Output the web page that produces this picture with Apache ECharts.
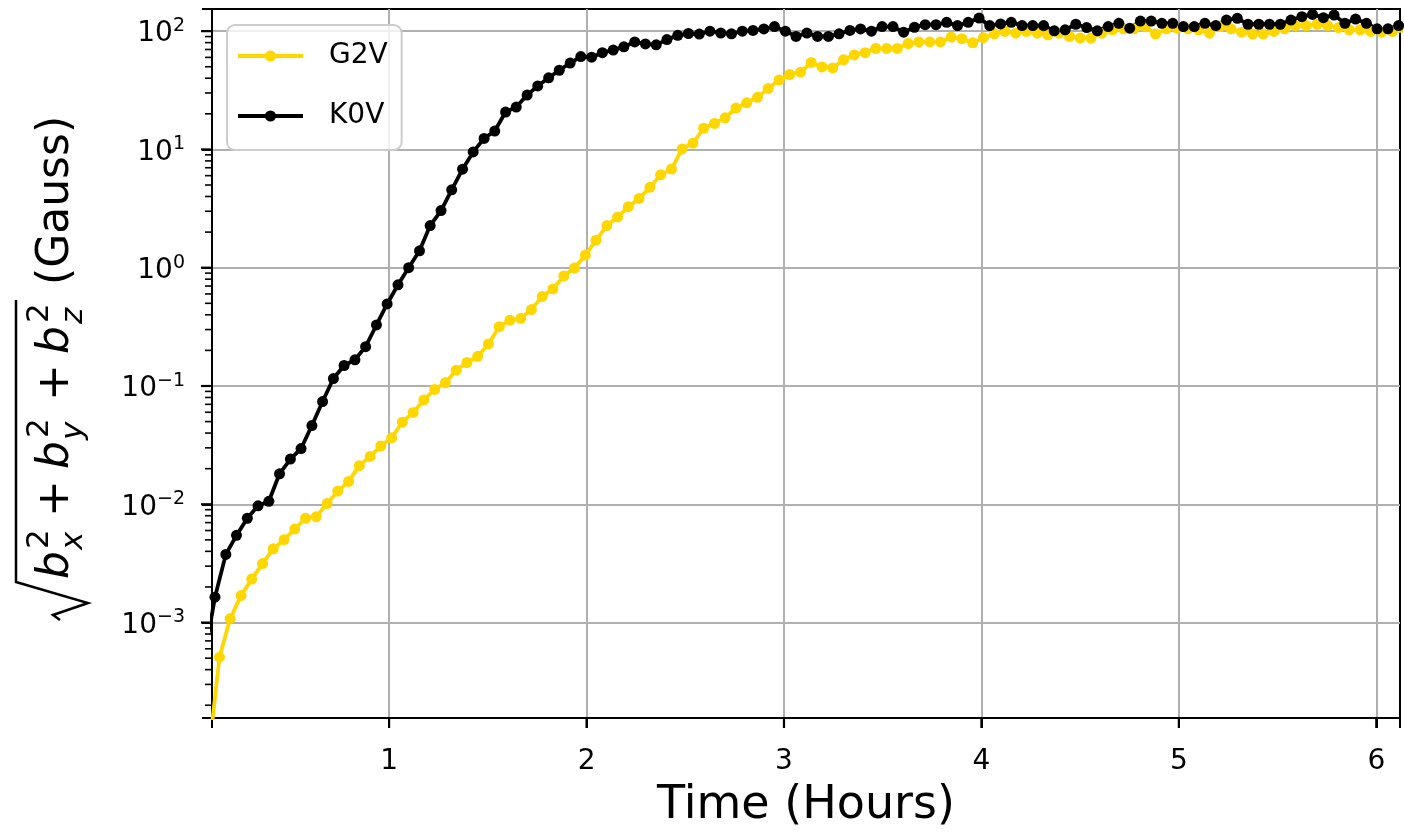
<!DOCTYPE html>
<html>
<head>
<meta charset="utf-8">
<title>b field growth</title>
<script src="https://cdn.jsdelivr.net/npm/echarts@6/dist/echarts.min.js"></script>
<style>
  html, body { margin: 0; padding: 0; background: #fff; }
  #chart { width: 1404px; height: 834px; }
</style>
</head>
<body>
<div id="chart"></div>
<script>
// [time (hours), |b| (Gauss)]
const g2v = [
  [0.086, 7.7e-5], [0.141, 5.1e-4], [0.195, 1.08e-3], [0.250, 1.69e-3], [0.304, 2.33e-3],
  [0.359, 3.15e-3], [0.413, 4.2e-3], [0.468, 5.02e-3], [0.522, 6.17e-3], [0.577, 7.62e-3],
  [0.631, 7.86e-3], [0.686, 1.016e-2], [0.740, 1.29e-2], [0.795, 1.56e-2], [0.849, 2.12e-2],
  [0.904, 2.54e-2], [0.958, 3.11e-2], [1.013, 3.65e-2], [1.067, 4.94e-2], [1.122, 5.98e-2],
  [1.176, 7.62e-2], [1.231, 9.35e-2], [1.285, 0.1064], [1.340, 0.136], [1.394, 0.158],
  [1.449, 0.178], [1.503, 0.227], [1.558, 0.317], [1.612, 0.36], [1.667, 0.373],
  [1.721, 0.443], [1.776, 0.572], [1.830, 0.662], [1.885, 0.853], [1.939, 0.993],
  [1.994, 1.28], [2.048, 1.71], [2.103, 2.27], [2.157, 2.68], [2.212, 3.28],
  [2.266, 3.85], [2.321, 4.78], [2.375, 6.1], [2.430, 6.82], [2.484, 10.1],
  [2.539, 11.3], [2.593, 15.1], [2.648, 16.6], [2.702, 18.5], [2.757, 22.4],
  [2.811, 24.8], [2.866, 27.6], [2.920, 32.8], [2.975, 38.6], [3.029, 43.0],
  [3.084, 45.0], [3.138, 54.4], [3.193, 49.8], [3.247, 48.9], [3.302, 57.3],
  [3.356, 63.0], [3.411, 65.8], [3.465, 71.5], [3.520, 71.5], [3.574, 71.5],
  [3.629, 78.6], [3.683, 81.1], [3.738, 81.1], [3.792, 81.1], [3.847, 89.2],
  [3.901, 86.4], [3.956, 79.6], [4.010, 88.1], [4.065, 95.0], [4.119, 99.4],
  [4.174, 96.2], [4.228, 99.4], [4.283, 96.2], [4.337, 93.2], [4.392, 96.2],
  [4.446, 90.3], [4.501, 87.5], [4.555, 87.5], [4.610, 96.2], [4.664, 102.6],
  [4.719, 104.6], [4.773, 104.6], [4.828, 109.3], [4.882, 94.4], [4.937, 104.6],
  [4.991, 106.0], [5.046, 104.6], [5.100, 102.6], [5.155, 96.2], [5.209, 109.3],
  [5.264, 104.6], [5.318, 98.1], [5.373, 94.4], [5.427, 94.4], [5.482, 99.4],
  [5.536, 104.6], [5.591, 111.5], [5.645, 111.5], [5.700, 114.4], [5.754, 111.5],
  [5.809, 107.3], [5.863, 102.6], [5.918, 102.6], [5.972, 99.4], [6.027, 98.1],
  [6.081, 99.4], [6.136, 101]
];

const k0v = [
  [0.064, 5.0e-4], [0.118, 1.64e-3], [0.173, 3.77e-3], [0.227, 5.46e-3], [0.282, 7.62e-3],
  [0.336, 9.71e-3], [0.391, 1.06e-2], [0.445, 1.81e-2], [0.500, 2.41e-2], [0.554, 2.96e-2],
  [0.609, 4.63e-2], [0.663, 7.39e-2], [0.718, 0.1156], [0.772, 0.149], [0.827, 0.1666],
  [0.881, 0.215], [0.936, 0.328], [0.990, 0.494], [1.045, 0.717], [1.099, 1.0],
  [1.154, 1.39], [1.208, 2.27], [1.263, 3.04], [1.317, 4.56], [1.372, 6.81],
  [1.426, 9.53], [1.481, 12.4], [1.535, 14.3], [1.590, 20.7], [1.644, 22.8],
  [1.699, 28.8], [1.753, 34.4], [1.808, 40.3], [1.862, 46.7], [1.917, 53.7],
  [1.971, 61.0], [2.026, 60.2], [2.080, 65.8], [2.135, 69.2], [2.189, 73.7],
  [2.244, 81.1], [2.298, 78.0], [2.353, 76.6], [2.407, 84.8], [2.462, 92.1],
  [2.516, 95.5], [2.571, 94.5], [2.625, 100], [2.680, 96.3], [2.734, 95.0],
  [2.789, 100], [2.843, 101.3], [2.898, 104.5], [2.952, 109.3], [3.007, 100],
  [3.061, 90.3], [3.116, 96.3], [3.170, 90.3], [3.225, 90.3], [3.279, 95.0],
  [3.334, 101.3], [3.388, 104.5], [3.443, 100], [3.497, 109.3], [3.552, 109.3],
  [3.606, 98.1], [3.661, 107.9], [3.715, 113.5], [3.770, 113.5], [3.824, 118.7],
  [3.879, 111.4], [3.933, 118.7], [3.988, 128.9], [4.042, 111.4], [4.097, 115],
  [4.151, 118.8], [4.206, 111.5], [4.260, 111.5], [4.315, 111.5], [4.369, 100.6],
  [4.424, 102.6], [4.478, 114.4], [4.533, 107.3], [4.587, 100.6], [4.642, 109.3],
  [4.696, 116.5], [4.751, 105.9], [4.805, 121.8], [4.860, 121.8], [4.914, 116.5],
  [4.969, 116.5], [5.023, 109.3], [5.078, 109.3], [5.132, 116.5], [5.187, 111.5],
  [5.241, 124.2], [5.296, 128.3], [5.350, 114.4], [5.405, 114.4], [5.459, 114.4],
  [5.514, 114.4], [5.568, 124.2], [5.623, 132.4], [5.677, 138.4], [5.732, 130.0],
  [5.786, 136.8], [5.841, 116.5], [5.895, 126.6], [5.950, 116.5], [6.004, 104.6],
  [6.059, 104.6], [6.113, 111.5], [6.168, 112]
];

const xTicks = [1, 2, 3, 4, 5, 6];
const yTicks = [1e-3, 1e-2, 1e-1, 1, 10, 100];

const xMin = 0.103, xMax = 6.12;
const yMin = 1.56e-4, yMax = 153.9;

// log minor ticks at 2..9 x 10^n
const yMinor = [];
for (let e = -4; e <= 2; e++) {
  for (let k = 2; k <= 9; k++) {
    const v = k * Math.pow(10, e);
    if (v > yMin && v < yMax) yMinor.push(v);
  }
}

// tick marks as [x, y, kind]: 0 = x major, 1 = y major, 2 = y minor
const tickData = []
  .concat(xTicks.map(v => [v, yMin, 0]))
  .concat(yTicks.map(v => [xMin, v, 1]))
  .concat(yMinor.map(v => [xMin, v, 2]));

const FONT = '"DejaVu Sans", sans-serif';
const supDigits = { '-': '−' };

function expLabel(v) {
  const e = Math.round(Math.log10(v));
  const s = String(e).split('').map(c => supDigits[c] || c).join('');
  return '{b|10}{s|' + s + '}';
}

// rotated y axis title: sqrt(b_x^2 + b_y^2 + b_z^2) (Gauss)
const big = 44, small = 31;
const it = (px) => 'italic ' + px + 'px ' + FONT;
const rm = (px) => px + 'px ' + FONT;
function t(text, x, y, font) {
  return {
    type: 'text',
    style: { text: text, x: x, y: y, font: font, fill: '#000', align: 'left', verticalAlign: 'middle',
      textAlign: 'left', textVerticalAlign: 'middle' }
  };
}
const yTitle = {
  type: 'group',
  x: 57,
  y: 369,
  rotation: Math.PI / 2,
  children: [
    {
      type: 'polyline',
      shape: { points: [[-251, 3], [-246, -4], [-234, 31], [-213, -41], [69, -41]] },
      style: { stroke: '#000', lineWidth: 2.5, fill: null, lineJoin: 'miter' }
    },
    t('b', -210, 0, it(big)),
    t('2', -180, -17, rm(small)),
    t('x', -181, 17, it(small)),
    t('+', -148, 0, rm(big)),
    t('b', -100, 0, it(big)),
    t('2', -69, -17, rm(small)),
    t('y', -71, 17, it(small)),
    t('+', -32, 0, rm(big)),
    t('b', 15, 0, it(big)),
    t('2', 46, -17, rm(small)),
    t('z', 45, 17, it(small)),
    t('(Gauss)', 84, 0, rm(big))
  ]
};

function renderTick(params, api) {
  const p = api.coord([api.value(0), api.value(1)]);
  const kind = api.value(2);
  let shape;
  if (kind === 0) {
    shape = { x1: p[0], y1: p[1], x2: p[0], y2: p[1] + 10 };
  } else {
    const len = kind === 1 ? 11 : 7;
    shape = { x1: p[0] - len, y1: p[1], x2: p[0], y2: p[1] };
  }
  return {
    type: 'line',
    shape: shape,
    style: { stroke: '#000', lineWidth: kind === 2 ? 1.6 : 2.2 }
  };
}

const spine = { show: true, onZero: false, lineStyle: { color: '#000', width: 2 } };
const majorTick = { show: true, inside: false, length: 10, lineStyle: { color: '#000', width: 2 } };

const chart = echarts.init(document.getElementById('chart'));
chart.setOption({
  animation: false,
  backgroundColor: '#fff',
  grid: {
    left: 212, right: 4, top: 9, bottom: 104.5,
    show: true, borderColor: '#000', borderWidth: 2, backgroundColor: 'transparent'
  },
  legend: {
    left: 227, top: 25, orient: 'vertical',
    itemWidth: 65, itemHeight: 14, itemGap: 32,
    padding: [17, 14, 20, 9],
    backgroundColor: 'rgba(255,255,255,0.8)',
    borderColor: '#cccccc', borderWidth: 2, borderRadius: 8,
    lineStyle: { width: 4 },
    textStyle: { fontSize: 28, color: '#000', fontFamily: FONT, padding: [0, 0, 0, 21] },
    data: ['G2V', 'K0V']
  },
  xAxis: {
    type: 'value',
    min: xMin, max: xMax,
    splitNumber: 6,
    name: 'Time (Hours)', nameLocation: 'middle', nameGap: 65,
    nameTextStyle: { fontSize: 46, color: '#000', fontFamily: FONT },
    axisLine: spine,
    axisTick: majorTick,
    axisLabel: { fontSize: 28, color: '#000', fontFamily: FONT, margin: 30, customValues: xTicks },
    splitLine: { show: true, showMinLine: false, showMaxLine: false, lineStyle: { color: '#b0b0b0', width: 2 } }
  },
  yAxis: {
    type: 'log', logBase: 10,
    min: yMin, max: yMax,
    position: 'left',
    axisLine: spine,
    axisTick: majorTick,
    axisLabel: {
      margin: 27, color: '#000', fontFamily: FONT, customValues: yTicks,
      padding: [6, 0, 0, 0],
      formatter: expLabel,
      rich: {
        b: { fontSize: 28, lineHeight: 35, fontFamily: FONT, color: '#000' },
        s: { fontSize: 19, lineHeight: 19, fontFamily: FONT, color: '#000', verticalAlign: 'top' }
      }
    },
    splitLine: { show: true, showMinLine: false, showMaxLine: false, lineStyle: { color: '#b0b0b0', width: 2 } }
  },
  series: [
    {
      name: 'G2V', type: 'line', data: g2v,
      color: '#ffd700',
      symbol: 'circle', symbolSize: 11, showAllSymbol: true,
      lineStyle: { width: 3.8, color: '#ffd700' },
      itemStyle: { color: '#ffd700' },
      clip: true
    },
    {
      name: 'K0V', type: 'line', data: k0v,
      color: '#000',
      symbol: 'circle', symbolSize: 11, showAllSymbol: true,
      lineStyle: { width: 3.8, color: '#000' },
      itemStyle: { color: '#000' },
      clip: true
    },
    {
      name: 'ticks', type: 'custom', data: tickData,
      renderItem: renderTick,
      silent: true, clip: false, z: 10,
      encode: { x: 0, y: 1 }
    }
  ],
  graphic: [yTitle]
});
</script>
</body>
</html>
